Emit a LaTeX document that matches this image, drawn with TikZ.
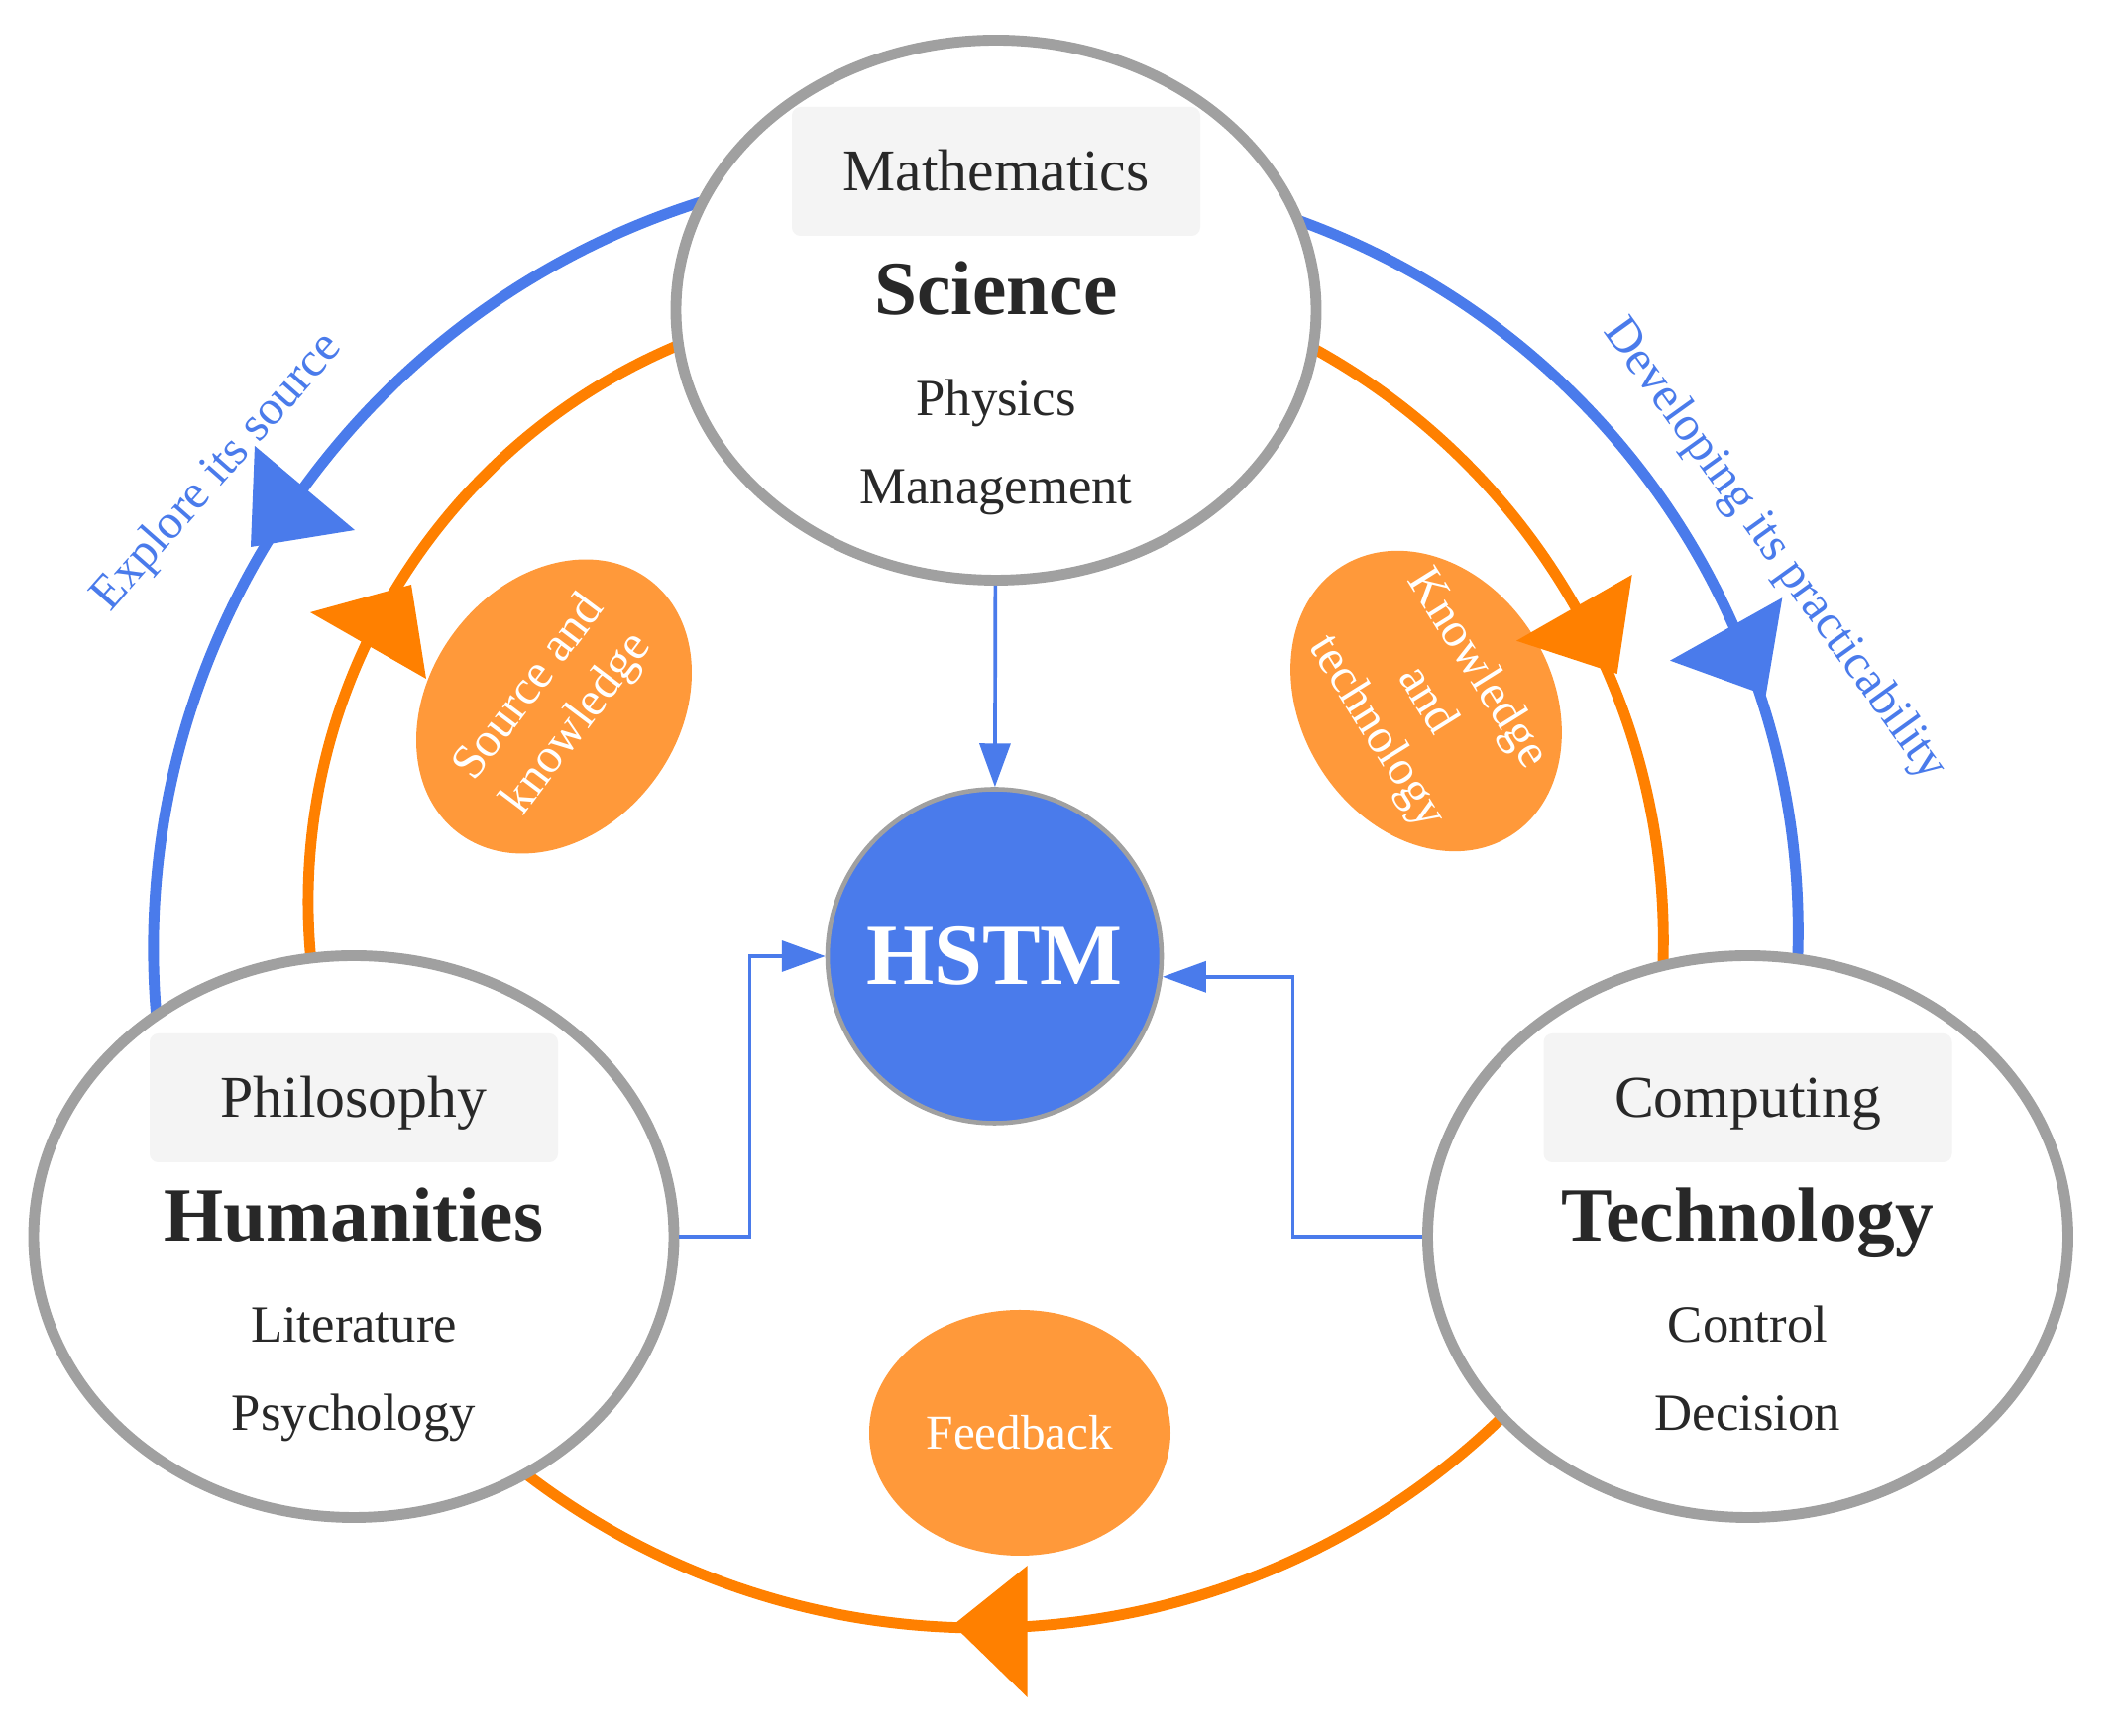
\documentclass[tikz,border=0pt]{standalone}
\usepackage{fontspec}
\setmainfont{Liberation Serif}
\usetikzlibrary{shapes.geometric,arrows.meta,backgrounds}
\definecolor{hblue}{RGB}{74,123,235}
\definecolor{horange}{RGB}{255,128,0}
\definecolor{hpeach}{RGB}{255,153,58}
\definecolor{hgray}{RGB}{160,160,160}
\definecolor{hbox}{RGB}{244,244,244}
\definecolor{htext}{RGB}{40,40,40}
\tikzset{
  field/.style={ellipse, draw=hgray, line width=3.1pt, fill=white, inner sep=0pt, minimum width=6.46cm},
  tagbox/.style={fill=hbox, rounded corners=2.5pt, minimum width=4.12cm, minimum height=1.3cm,
    text height=0.55cm, text depth=0.15cm, inner sep=0pt, text=htext, font=\fontsize{17}{20}\selectfont},
  fieldname/.style={anchor=base, text=htext, font=\fontsize{22}{26}\selectfont\bfseries},
  fielditem/.style={anchor=base, text=htext, font=\fontsize{15}{18}\selectfont},
  bubble/.style={ellipse, fill=hpeach, text=white, inner sep=0pt, align=center, font=\fontsize{14}{17}\selectfont},
  bigarc/.style={line width=3.1pt},
  link/.style={hblue, line width=1.05pt, -{Triangle[width=8.8pt,length=12.5pt]}},
  note/.style={text=hblue, font=\fontsize{14}{17}\selectfont}
}
\begin{document}
\begin{tikzpicture}
\useasboundingbox (0,0) rectangle (21.32,17.52);
% the three fields
\foreach \n/\x/\y/\h/\tag/\name/\one/\two in {sci/10.05/14.39/5.45/Mathematics/Science/Physics/Management,
  hum/3.57/5.04/5.67/Philosophy/Humanities/Literature/Psychology,
  tech/17.635/5.04/5.67/Computing/Technology/Control/Decision}
{
  \node[field, minimum height=\h cm] (\n) at (\x,\y) {};
  \node[tagbox] (\n-tag) at ([yshift=1.4cm]\n.center) {\tag};
  \node[fieldname] (\n-name) at ([yshift=-0.05cm]\n.center) {\name};
  \node[fielditem] (\n-one) at ([yshift=-1.07cm]\n.center) {\one};
  \node[fielditem] (\n-two) at ([yshift=-1.96cm]\n.center) {\two};
}
\node[circle, draw=hgray, line width=1.3pt, fill=hblue, minimum size=3.37cm, inner sep=0pt,
  text=white, font=\fontsize{25}{30}\selectfont\bfseries] (hstm) at (10.035,7.87) {HSTM};
\node[bubble, minimum width=3.2cm, minimum height=2.51cm, rotate=53] (src) at (5.59,10.39) {Source and\\knowledge};
\node[bubble, minimum width=3.16cm, minimum height=2.53cm, rotate=-58] (know) at (14.39,10.445) {Knowledge\\and\\technology};
\node[bubble, minimum width=3.04cm, minimum height=2.48cm] (feed) at (10.29,3.06) {Feedback};
\node[note, rotate=48.6] (explore) at (2.20,12.75) {Explore its source};
\node[note, rotate=-54.3] (develop) at (17.90,11.97) {Developing its practicability};
% links to the centre
\draw[link] (sci) -- (hstm);
\draw[link] (hum.east) -- ++(0.71,0) |- (hstm.west);
\draw[link] (tech.west) -- ++(-1.305,0) |- (hstm.-7);
% the big loops
\begin{scope}[on background layer]
\coordinate (lb) at (9.453,7.944);
\coordinate (rb) at (10.51,8.116);
\coordinate (lo) at (9.206,8.416);
\coordinate (ro) at (9.964,8.03);
\coordinate (bo) at (9.90,8.65);
\draw[bigarc, hblue] ([shift={(104:7.904)}]lb) arc[start angle=104, end angle=188, radius=7.904];
\draw[bigarc, hblue] ([shift={(71:7.633)}]rb) arc[start angle=71, end angle=-7, radius=7.633];
\draw[bigarc, horange] ([shift={(190:6.096)}]lo) arc[start angle=190, end angle=108, radius=6.096];
\draw[bigarc, horange] ([shift={(63:6.819)}]ro) arc[start angle=63, end angle=-6, radius=6.819];
\draw[bigarc, horange] ([shift={(-43:7.56)}]bo) arc[start angle=-43, end angle=-131, radius=7.56];
\end{scope}
% arrow heads on the loops
\fill[hblue] (2.57,13.02) -- (3.58,12.17) -- (2.53,12.00) -- cycle;
\fill[horange] (3.13,11.34) -- (4.30,10.67) -- (4.15,11.62) -- cycle;
\fill[horange] (10.367,1.72) -- (10.367,0.39) -- (9.617,1.12) -- cycle;
\fill[horange] (16.467,11.72) -- (15.30,11.053) -- (16.317,10.72) -- cycle;
\fill[hblue] (17.983,11.487) -- (16.85,10.853) -- (17.817,10.503) -- cycle;
\end{tikzpicture}
\end{document}
